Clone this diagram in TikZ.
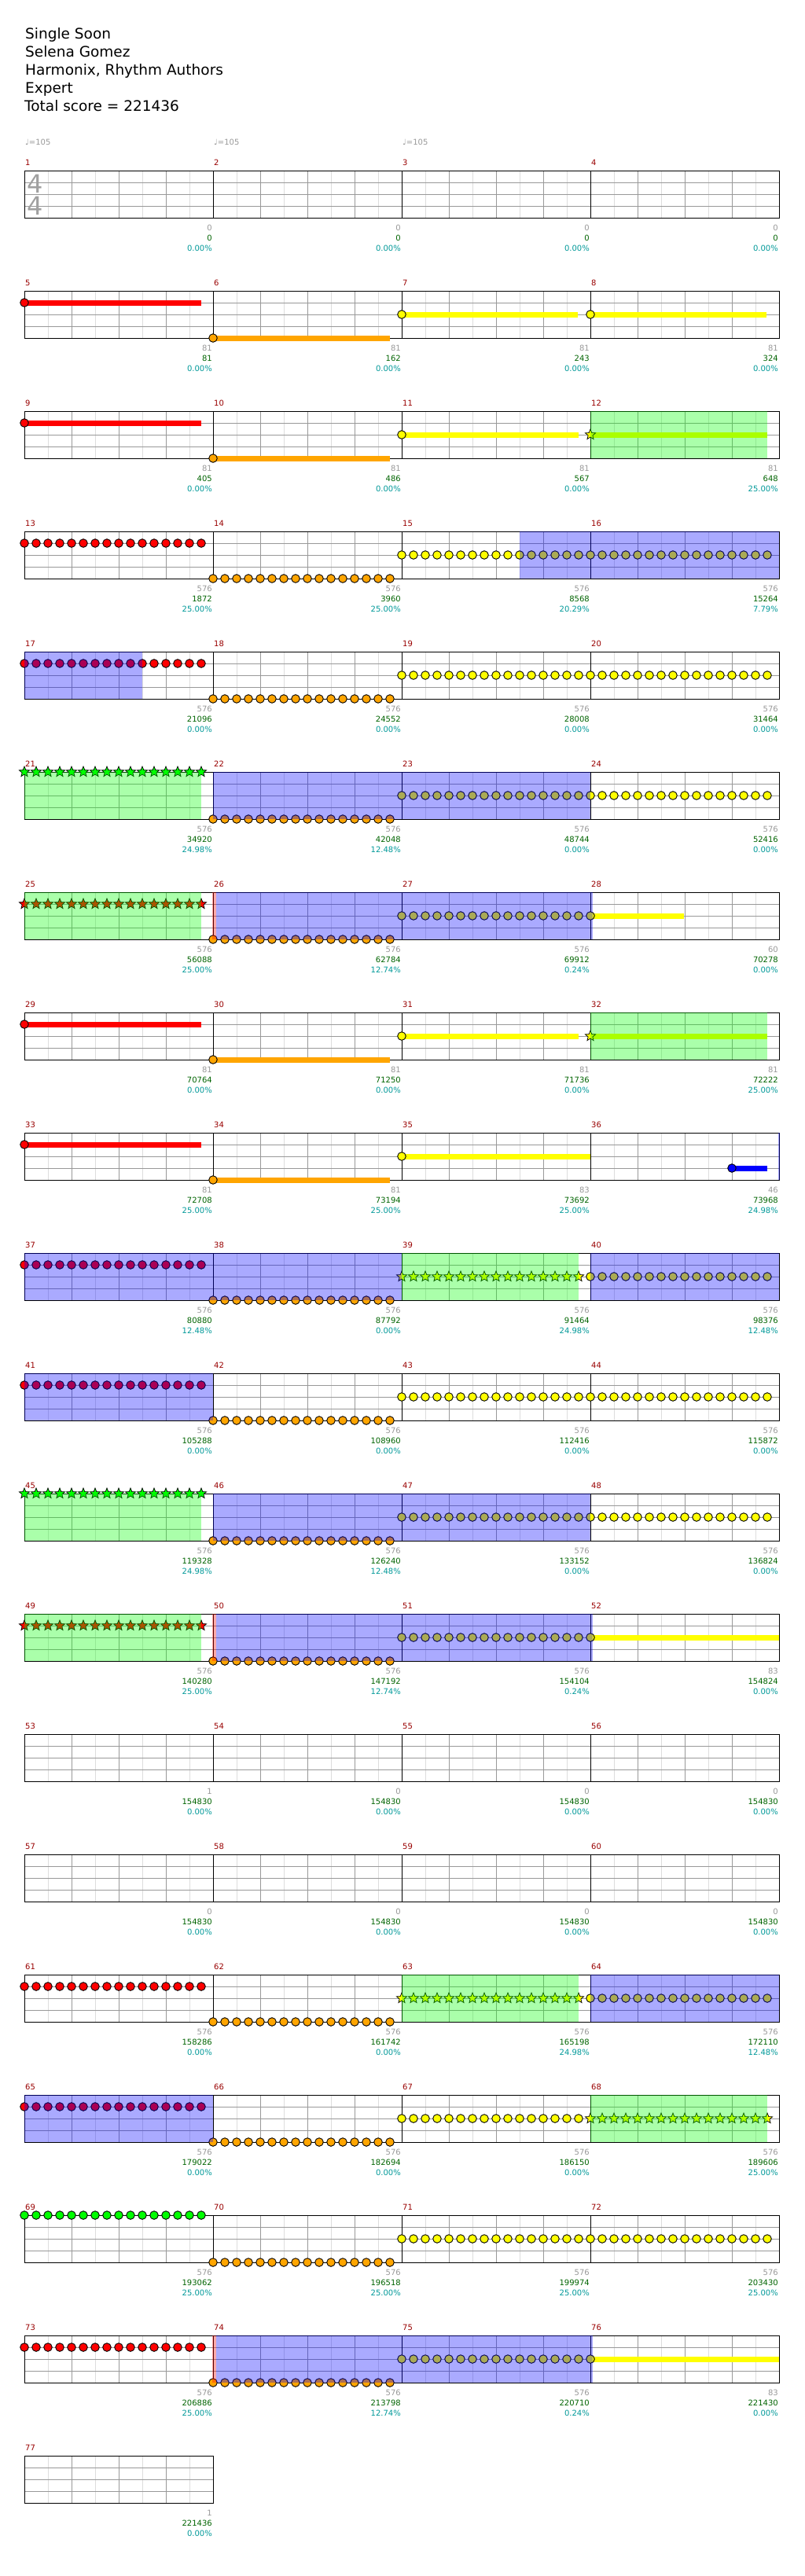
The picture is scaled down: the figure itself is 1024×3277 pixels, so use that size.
\documentclass[tikz,border=0pt]{standalone}
\usepackage{fontspec}
\setmainfont{DejaVu Sans}
\usetikzlibrary{shapes.geometric}
\definecolor{mnum}{HTML}{990000}
\definecolor{gnum}{HTML}{999999}
\definecolor{snum}{HTML}{006400}
\definecolor{pnum}{HTML}{009999}
\definecolor{lgrid}{HTML}{DDDDDD}
\definecolor{dgrid}{HTML}{999999}
\definecolor{tsig}{HTML}{A0A0A0}
\definecolor{nred}{HTML}{FF0000}
\definecolor{norange}{HTML}{FFA500}
\definecolor{nyellow}{HTML}{FFFF00}
\definecolor{ngreen}{HTML}{00FF00}
\definecolor{nblue}{HTML}{0000FF}
\tikzset{
  notec/.style={draw=black, line width=0.9pt},
  ostar/.style={star, star points=5, star point ratio=2.3, minimum size=14pt, inner sep=0pt, draw=black, line width=0.7pt},
  sus/.style={line width=7pt},
  odfill/.style={fill=nblue, fill opacity=0.3333},
  phfill/.style={fill=ngreen, fill opacity=0.3333},
  rdfill/.style={fill=nred, fill opacity=0.3333},
  numtxt/.style={font=\fontsize{10}{12}\selectfont, inner sep=0pt},
  headtxt/.style={font=\fontsize{18.5}{22}\selectfont, inner sep=0pt, anchor=base west},
  tsigtxt/.style={font=\fontsize{32}{32}\selectfont, text=tsig, anchor=base, inner sep=0pt},
}
\newcommand\rowgrid[2]{%
  \pgfmathsetmacro\rowT{217+153*#1}%
  \pgfmathsetmacro\rowR{31+240*#2}%
  \pgfmathtruncatemacro\nmm{#2-1}%
  \fill[white] (31,\rowT) rectangle (\rowR,{\rowT+60});
  \foreach \c in {0,...,\nmm}{\foreach \k in {1,3,5,7}{\draw[lgrid, line width=1pt] ({31+240*\c+30*\k},\rowT) -- ++(0,60);}}
  \foreach \dy in {15,30,45}{\draw[dgrid, line width=1pt] (31,{\rowT+\dy}) -- (\rowR,{\rowT+\dy});}
  \foreach \c in {0,...,\nmm}{\foreach \k in {2,4,6}{\draw[dgrid, line width=1pt] ({31+240*\c+30*\k},\rowT) -- ++(0,60);}}
  \foreach \c in {0,...,#2}{\draw[black, line width=1pt] ({31+240*\c},\rowT) -- ++(0,60);}
  \draw[black, line width=1pt] (31,\rowT) rectangle (\rowR,{\rowT+60});
}
\newcommand\mlab[4]{%
  \pgfmathtruncatemacro\rr{(#1-1)/4}%
  \pgfmathtruncatemacro\cc{mod(#1-1,4)}%
  \pgfmathsetmacro\rowT{217+153*\rr}%
  \pgfmathsetmacro\colX{31+240*\cc}%
  \node[numtxt, text=mnum, anchor=base west] (m#1) at ({\colX+1},{\rowT-7}) {#1};
  \node[numtxt, text=gnum, anchor=base east] (g#1) at ({\colX+239},{\rowT+76}) {#2};
  \node[numtxt, text=snum, anchor=base east] (s#1) at ({\colX+239},{\rowT+89}) {#3};
  \node[numtxt, text=pnum, anchor=base east] (p#1) at ({\colX+239},{\rowT+102}) {#4\%};
}
% notes: row, start x, lane offset, count, colour
\newcommand\nts[5]{%
  \pgfmathsetmacro\rowT{217+153*#1}%
  \foreach \i in {1,...,#4}{\filldraw[fill=#5, notec] ({#2+15*(\i-1)},{\rowT+#3}) circle (5.3pt);}
}
\newcommand\sts[5]{%
  \pgfmathsetmacro\rowT{217+153*#1}%
  \foreach \i in {1,...,#4}{\node[ostar, fill=#5] at ({#2+15*(\i-1)},{\rowT+#3}) {};}
}
% sustain: row, x1, x2, lane, colour
\newcommand\susn[5]{%
  \pgfmathsetmacro\rowT{217+153*#1}%
  \draw[sus, #5] (#2,{\rowT+#4}) -- (#3,{\rowT+#4});
  \filldraw[fill=#5, notec] (#2,{\rowT+#4}) circle (5.3pt);
}
\newcommand\suss[5]{%
  \pgfmathsetmacro\rowT{217+153*#1}%
  \draw[sus, #5] (#2,{\rowT+#4}) -- (#3,{\rowT+#4});
  \node[ostar, fill=#5] at (#2,{\rowT+#4}) {};
}
\newcommand\od[3]{\pgfmathsetmacro\rowT{217+153*#1}\fill[odfill] (#2,\rowT) rectangle (#3,{\rowT+60});}
\newcommand\ph[3]{\pgfmathsetmacro\rowT{217+153*#1}\fill[phfill] (#2,\rowT) rectangle (#3,{\rowT+60});}
\newcommand\rd[3]{\pgfmathsetmacro\rowT{217+153*#1}\fill[rdfill] (#2,\rowT) rectangle (#3,{\rowT+60});}
\begin{document}
\begin{tikzpicture}[x=1pt, y=-1pt]
\useasboundingbox (0,0) rectangle (1024,3277);
\fill[white] (0,0) rectangle (1024,3277);
% header
\node[headtxt] (title) at (32,49) {Single Soon};
\node[headtxt] (artist) at (32,72) {Selena Gomez};
\node[headtxt] (author) at (32,95) {Harmonix, Rhythm Authors};
\node[headtxt] (level) at (32,118) {Expert};
\node[headtxt] (total) at (31,141) {Total score = 221436};
% row 0
\rowgrid{0}{4}
\foreach \tx/\nm in {32/t1, 272/t2, 512/t3}{\node[numtxt, text=gnum, anchor=base west] (\nm) at (\tx,184) {♩=105};}
\node[tsigtxt] (ts1) at (44.5,245) {4};
\node[tsigtxt] (ts2) at (44.5,273.5) {4};
% row 1
\rowgrid{1}{4}
\susn{1}{31}{256}{15}{nred}
\susn{1}{271}{496}{60}{norange}
\susn{1}{511}{735}{30}{nyellow}
\susn{1}{751}{975}{30}{nyellow}
% row 2
\rowgrid{2}{4}
\susn{2}{31}{256}{15}{nred}
\susn{2}{271}{496}{60}{norange}
\susn{2}{511}{736}{30}{nyellow}
\suss{2}{751}{976}{30}{nyellow}
\ph{2}{751}{976}
% row 3
\rowgrid{3}{4}
\nts{3}{31}{15}{16}{nred}
\nts{3}{271}{60}{16}{norange}
\nts{3}{511}{30}{32}{nyellow}
\od{3}{661}{991}
% row 4
\rowgrid{4}{4}
\nts{4}{31}{15}{16}{nred}
\nts{4}{271}{60}{16}{norange}
\nts{4}{511}{30}{32}{nyellow}
\od{4}{31}{181}
% row 5
\rowgrid{5}{4}
\sts{5}{31}{0}{16}{ngreen}
\ph{5}{31}{256}
\nts{5}{271}{60}{16}{norange}
\nts{5}{511}{30}{32}{nyellow}
\od{5}{271}{751}
% row 6
\rowgrid{6}{4}
\sts{6}{31}{15}{16}{nred}
\ph{6}{31}{256}
\nts{6}{271}{60}{16}{norange}
\susn{6}{751}{870}{30}{nyellow}
\nts{6}{511}{30}{16}{nyellow}
\rd{6}{270}{275}
\od{6}{275}{754}
% row 7
\rowgrid{7}{4}
\susn{7}{31}{256}{15}{nred}
\susn{7}{271}{496}{60}{norange}
\susn{7}{511}{736}{30}{nyellow}
\suss{7}{751}{976}{30}{nyellow}
\ph{7}{751}{976}
% row 8
\rowgrid{8}{4}
\susn{8}{31}{256}{15}{nred}
\susn{8}{271}{496}{60}{norange}
\susn{8}{511}{751}{30}{nyellow}
\susn{8}{931}{976}{45}{nblue}
\od{8}{990}{991.5}
% row 9
\rowgrid{9}{4}
\nts{9}{31}{15}{16}{nred}
\nts{9}{271}{60}{16}{norange}
\sts{9}{511}{30}{16}{nyellow}
\ph{9}{511}{736}
\nts{9}{751}{30}{16}{nyellow}
\od{9}{31}{511}
\od{9}{751}{991}
% row 10
\rowgrid{10}{4}
\nts{10}{31}{15}{16}{nred}
\nts{10}{271}{60}{16}{norange}
\nts{10}{511}{30}{32}{nyellow}
\od{10}{31}{271}
% row 11
\rowgrid{11}{4}
\sts{11}{31}{0}{16}{ngreen}
\ph{11}{31}{256}
\nts{11}{271}{60}{16}{norange}
\nts{11}{511}{30}{32}{nyellow}
\od{11}{271}{751}
% row 12
\rowgrid{12}{4}
\sts{12}{31}{15}{16}{nred}
\ph{12}{31}{256}
\nts{12}{271}{60}{16}{norange}
\susn{12}{751}{991}{30}{nyellow}
\nts{12}{511}{30}{16}{nyellow}
\rd{12}{270}{275}
\od{12}{275}{754}
% rows 13-14
\rowgrid{13}{4}
\rowgrid{14}{4}
% row 15
\rowgrid{15}{4}
\nts{15}{31}{15}{16}{nred}
\nts{15}{271}{60}{16}{norange}
\sts{15}{511}{30}{16}{nyellow}
\ph{15}{511}{736}
\nts{15}{751}{30}{16}{nyellow}
\od{15}{751}{991}
% row 16
\rowgrid{16}{4}
\nts{16}{31}{15}{16}{nred}
\nts{16}{271}{60}{16}{norange}
\nts{16}{511}{30}{16}{nyellow}
\sts{16}{751}{30}{16}{nyellow}
\ph{16}{751}{976}
\od{16}{31}{271}
% row 17
\rowgrid{17}{4}
\nts{17}{31}{0}{16}{ngreen}
\nts{17}{271}{60}{16}{norange}
\nts{17}{511}{30}{32}{nyellow}
% row 18
\rowgrid{18}{4}
\nts{18}{31}{15}{16}{nred}
\nts{18}{271}{60}{16}{norange}
\susn{18}{751}{991}{30}{nyellow}
\nts{18}{511}{30}{16}{nyellow}
\rd{18}{270}{275}
\od{18}{275}{754}
% row 19
\rowgrid{19}{1}
% labels
\mlab{1}{0}{0}{0.00}\mlab{2}{0}{0}{0.00}\mlab{3}{0}{0}{0.00}\mlab{4}{0}{0}{0.00}
\mlab{5}{81}{81}{0.00}\mlab{6}{81}{162}{0.00}\mlab{7}{81}{243}{0.00}\mlab{8}{81}{324}{0.00}
\mlab{9}{81}{405}{0.00}\mlab{10}{81}{486}{0.00}\mlab{11}{81}{567}{0.00}\mlab{12}{81}{648}{25.00}
\mlab{13}{576}{1872}{25.00}\mlab{14}{576}{3960}{25.00}\mlab{15}{576}{8568}{20.29}\mlab{16}{576}{15264}{7.79}
\mlab{17}{576}{21096}{0.00}\mlab{18}{576}{24552}{0.00}\mlab{19}{576}{28008}{0.00}\mlab{20}{576}{31464}{0.00}
\mlab{21}{576}{34920}{24.98}\mlab{22}{576}{42048}{12.48}\mlab{23}{576}{48744}{0.00}\mlab{24}{576}{52416}{0.00}
\mlab{25}{576}{56088}{25.00}\mlab{26}{576}{62784}{12.74}\mlab{27}{576}{69912}{0.24}\mlab{28}{60}{70278}{0.00}
\mlab{29}{81}{70764}{0.00}\mlab{30}{81}{71250}{0.00}\mlab{31}{81}{71736}{0.00}\mlab{32}{81}{72222}{25.00}
\mlab{33}{81}{72708}{25.00}\mlab{34}{81}{73194}{25.00}\mlab{35}{83}{73692}{25.00}\mlab{36}{46}{73968}{24.98}
\mlab{37}{576}{80880}{12.48}\mlab{38}{576}{87792}{0.00}\mlab{39}{576}{91464}{24.98}\mlab{40}{576}{98376}{12.48}
\mlab{41}{576}{105288}{0.00}\mlab{42}{576}{108960}{0.00}\mlab{43}{576}{112416}{0.00}\mlab{44}{576}{115872}{0.00}
\mlab{45}{576}{119328}{24.98}\mlab{46}{576}{126240}{12.48}\mlab{47}{576}{133152}{0.00}\mlab{48}{576}{136824}{0.00}
\mlab{49}{576}{140280}{25.00}\mlab{50}{576}{147192}{12.74}\mlab{51}{576}{154104}{0.24}\mlab{52}{83}{154824}{0.00}
\mlab{53}{1}{154830}{0.00}\mlab{54}{0}{154830}{0.00}\mlab{55}{0}{154830}{0.00}\mlab{56}{0}{154830}{0.00}
\mlab{57}{0}{154830}{0.00}\mlab{58}{0}{154830}{0.00}\mlab{59}{0}{154830}{0.00}\mlab{60}{0}{154830}{0.00}
\mlab{61}{576}{158286}{0.00}\mlab{62}{576}{161742}{0.00}\mlab{63}{576}{165198}{24.98}\mlab{64}{576}{172110}{12.48}
\mlab{65}{576}{179022}{0.00}\mlab{66}{576}{182694}{0.00}\mlab{67}{576}{186150}{0.00}\mlab{68}{576}{189606}{25.00}
\mlab{69}{576}{193062}{25.00}\mlab{70}{576}{196518}{25.00}\mlab{71}{576}{199974}{25.00}\mlab{72}{576}{203430}{25.00}
\mlab{73}{576}{206886}{25.00}\mlab{74}{576}{213798}{12.74}\mlab{75}{576}{220710}{0.24}\mlab{76}{83}{221430}{0.00}
\mlab{77}{1}{221436}{0.00}
\end{tikzpicture}
\end{document}
